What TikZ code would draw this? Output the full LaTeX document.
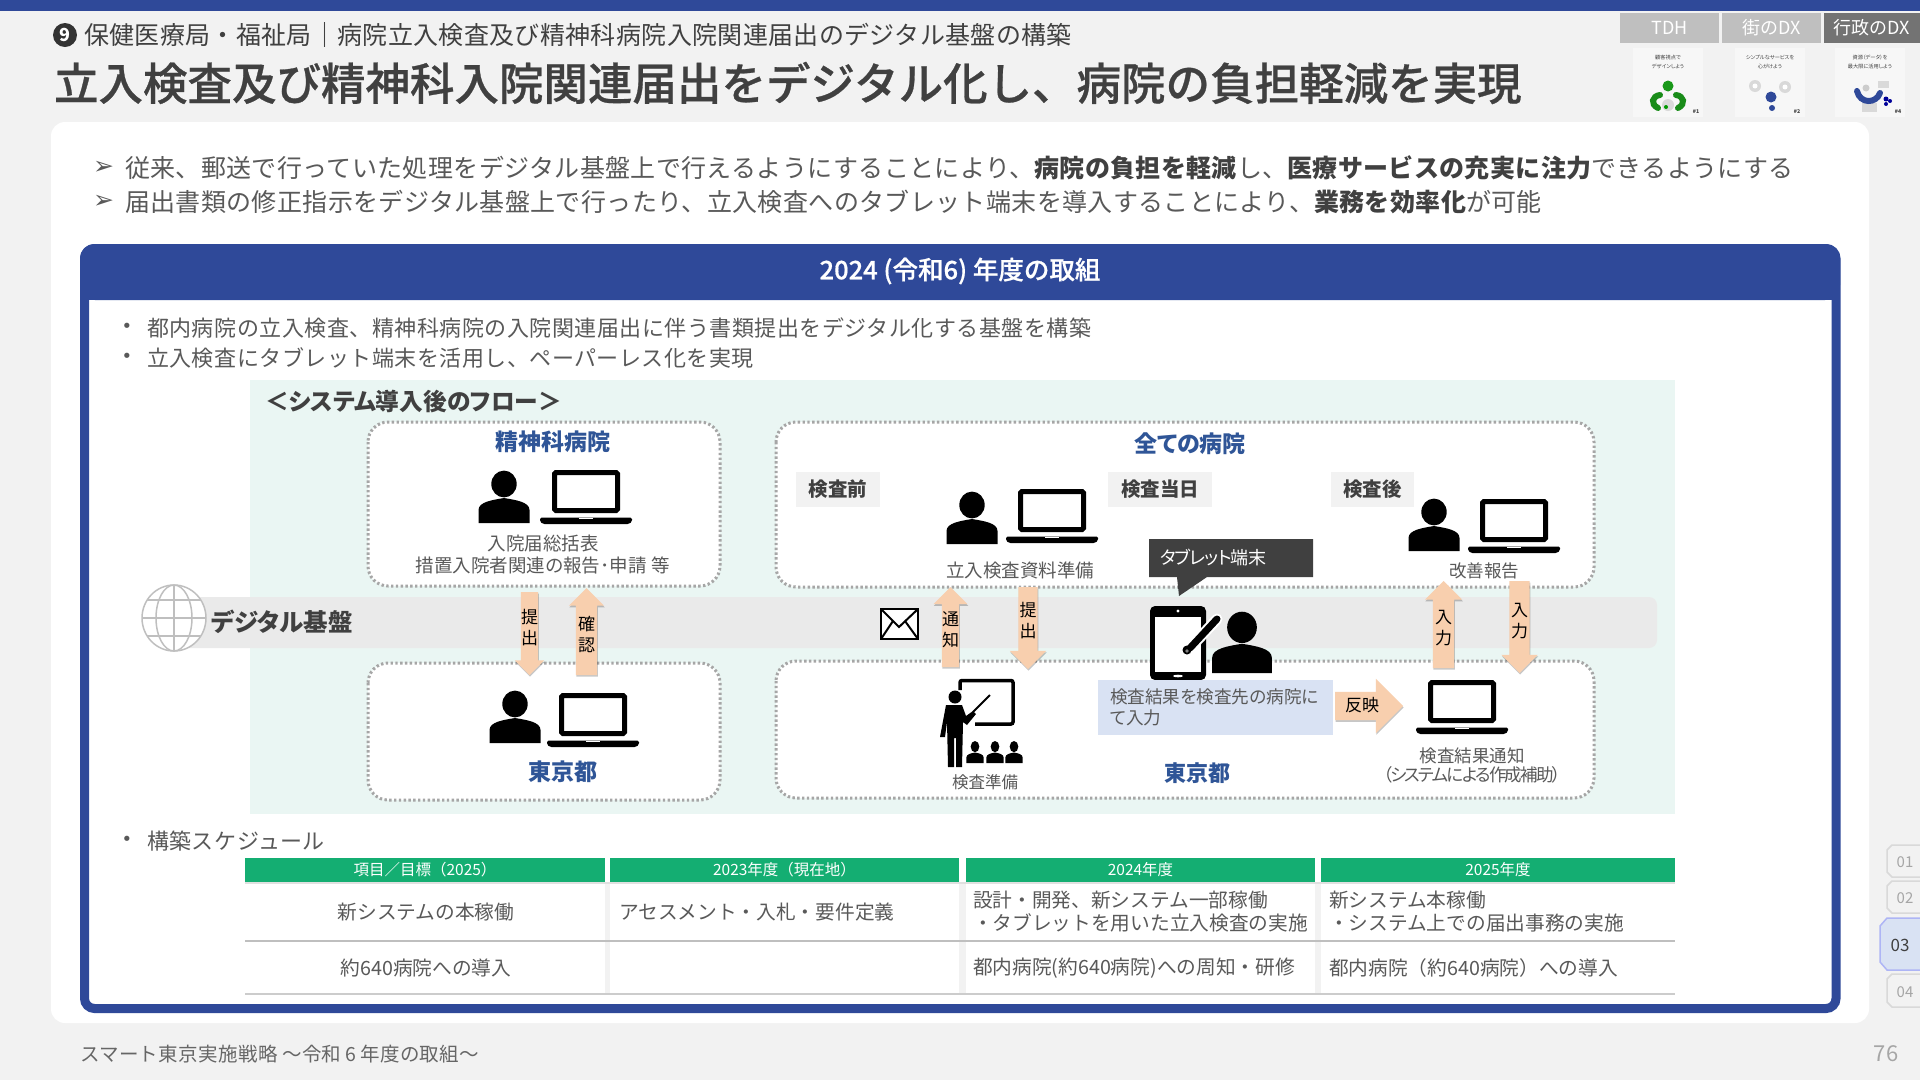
\documentclass[tikz,border=0pt]{standalone}
\usepackage{fontspec}
\usetikzlibrary{shapes.arrows,shadows}
\setmainfont{Noto Sans CJK JP}
\newfontfamily\pf[RawFeature=+palt]{Noto Sans CJK JP}
\newfontfamily\mf[FakeBold=0.6]{Noto Sans CJK JP Medium}
\newfontfamily\djfont{DejaVu Sans}
\newcommand\fz[2]{\fontsize{#1}{#2}\selectfont}
\newcommand\ls[1]{\addfontfeature{LetterSpace=#1}}
\definecolor{bluemain}{HTML}{2F4999}
\definecolor{bluetext}{HTML}{2F5597}
\definecolor{bgpage}{HTML}{F2F2F2}
\definecolor{mint}{HTML}{EAF6F3}
\definecolor{band}{HTML}{EAEAEA}
\definecolor{peach}{HTML}{F8CFAE}
\definecolor{tgray}{HTML}{595959}
\definecolor{tdark}{HTML}{404040}
\definecolor{tablegreen}{HTML}{14AE72}
\definecolor{dotgray}{HTML}{A6A6A6}
\definecolor{paleblue}{HTML}{D9E2F3}
\tikzset{
  lab/.style={inner sep=0pt,outer sep=0pt,text=tgray},
  wlab/.style={lab,anchor=west},
  dotbox/.style={draw=dotgray,line width=3pt,dash pattern=on 2.4pt off 2.4pt,fill=white,rounded corners=20pt},
  hosp/.style={lab,text=bluetext,font=\fz{23}{28}\pf\bfseries},
  tagbox/.style={fill=bgpage,inner sep=0pt,minimum height=35pt,text=tdark,font=\fz{19.5}{24}\pf\bfseries},
  small/.style={lab,align=center,font=\fz{18.5}{22}\pf},
  arrowlab/.style={lab,text=black,align=center,font=\fz{17}{21}\pf},
  blockarrow/.style={single arrow,fill=peach,inner sep=0pt,outer sep=0pt,anchor=tail,
     drop shadow={shadow xshift=0.6pt,shadow yshift=-1.6pt,opacity=.22,fill=black}},
  thead/.style={fill=tablegreen,text=white,inner sep=0pt,minimum height=24pt,font=\fz{15.5}{18}},
  tcell/.style={lab,font=\fz{19.7}{24}},
  navtab/.style={lab,font=\fz{15}{18},text=dotgray},
  tophead/.style={inner sep=0pt,minimum height=30pt,text=white,font=\fz{18}{22}},
  tiny/.style={lab,align=center,text=tdark,font=\fz{5.2}{8.5}\pf},
  person/.pic={
    \fill[black] (0,-39) ellipse (12.7 and 13.4);
    \fill[black] (-25.5,0) -- (-25.5,-13) .. controls (-25.5,-21) and (-12,-23) .. (0,-25)
       .. controls (12,-23) and (25.5,-21) .. (25.5,-13) -- (25.5,0) -- cycle;
  },
  laptop/.pic={
    \draw[black,line width=5pt,fill=white,rounded corners=1.5pt] (-31.5,-13.5) rectangle (31.5,-51.5);
    \fill[black,rounded corners=1.5pt] (-46,-6.5) -- (46,-6.5) -- (46,-2.5) -- (43,0) -- (-43,0) -- (-46,-2.5) -- cycle;
    \fill[white] (-7,-6.5) rectangle (7,-5);
  },
}
\newcommand\shaft[1]{\rule{0pt}{#1pt}}
\begin{document}
\begin{tikzpicture}[x=1pt,y=-1pt]
\useasboundingbox (0,0) rectangle (1920,1080);
\fill[bgpage] (0,0) rectangle (1920,1080);
\fill[bluemain] (0,0) rectangle (1920,11);

% heading
\node[circle,fill=black!80,text=white,inner sep=0pt,minimum size=24pt,font=\fz{18}{20}\bfseries] (num) at (65,35) {9};
\node[wlab,text=tdark,font=\fz{25}{30}\ls{1.4}] (sect) at (84,35) {保健医療局・福祉局｜病院立入検査及び精神科病院入院関連届出のデジタル基盤の構築};
\node[wlab,text=tdark,font=\fz{44.5}{50}\mf\fz{44.5}{50}] (title) at (54,83) {立入検査及び精神科入院関連届出をデジタル化し、病院の負担軽減を実現};

% top-right tabs
\node[tophead,fill=black!25,minimum width=99pt] (tab1) at (1669.5,28) {TDH};
\node[tophead,fill=black!25,minimum width=99pt] (tab2) at (1771.5,28) {街のDX};
\node[tophead,fill=black!55,minimum width=96pt] (tab3) at (1872,28) {行政のDX};
\fill[white!97!black] (1633,48) rectangle (1703,117);
\fill[white!97!black] (1735,48) rectangle (1805,117);
\fill[white!97!black] (1835,48) rectangle (1905,117);
\node[tiny] (c1) at (1668,62) {顧客視点で\\デザインしよう};
\node[tiny] (c2) at (1770,62) {シンプルなサービスを\\心がけよう};
\node[tiny] (c3) at (1870,62) {資源（データ）を\\最大限に活用しよう};
\node[tiny] (n1) at (1696,112) {\bfseries \#1};
\node[tiny] (n2) at (1797,112) {\bfseries \#2};
\node[tiny] (n3) at (1898,112) {\bfseries \#4};
\fill[black!15] (1668,105) circle (6);
\fill[green!55!black!90] (1668,86) circle (5.5);
\draw[green!50!black!90,line width=6pt,line cap=round] (1660,95) .. controls (1652,96) and (1650,104) .. (1658,108);
\draw[green!50!black!90,line width=6pt,line cap=round] (1676,95) .. controls (1684,96) and (1686,104) .. (1678,108);
\fill[green!60!black] (1666,107) circle (2);
\fill[black!15] (1755,86) circle (6);
\fill[black!15] (1785,87) circle (6);
\fill[white] (1755,86) circle (2.5);
\fill[white] (1785,87) circle (2.5);
\fill[bluemain] (1771,97) circle (5.5);
\fill[bluemain] (1772,108) circle (3);
\fill[black!15] (1878,81) rectangle (1889,88);
\fill[black!15] (1862,103) rectangle (1877,112);
\fill[black!20] (1866,88) circle (3.5);
\draw[bluemain,line width=6pt,line cap=round] (1857,91) .. controls (1860,104) and (1876,104) .. (1880,93);
\fill[blue!60!black] (1886,99) circle (2.5);
\fill[blue!60!black] (1890,101) circle (2);
\fill[blue!60!black] (1886,104) circle (2);

% main panel
\fill[white,rounded corners=14pt] (51,122) rectangle (1869,1023);
\node[wlab,font=\fz{25}{28}\djfont] (a1) at (93,168) {➢};
\node[wlab,font=\fz{25}{28}\djfont] (a2) at (93,202) {➢};
\node[wlab,font=\fz{25}{30}\ls{1.5}] (l1) at (125,168) {従来、郵送で行っていた処理をデジタル基盤上で行えるようにすることにより、{\bfseries\color{tdark}病院の負担を軽減}し、{\bfseries\color{tdark}医療サービスの充実に注力}できるようにする};
\node[wlab,font=\fz{25}{30}\ls{1.5}] (l2) at (125,202) {届出書類の修正指示をデジタル基盤上で行ったり、立入検査へのタブレット端末を導入することにより、{\bfseries\color{tdark}業務を効率化}が可能};

% blue frame
\draw[draw=bluemain,fill=white,line width=9pt,rounded corners=10pt] (84.5,248.5) rectangle (1836,1008.5);
\fill[bluemain,rounded corners=15pt] (80,244) -- (1840,244) -- (1840,300) -- (80,300) -- cycle;
\fill[bluemain] (80,280) rectangle (1840,300);
\node[lab,text=white,font=\fz{25.5}{30}\mf\fz{25.5}{30}] (hdr) at (960,271) {2024 (令和6) 年度の取組};

\node[lab,font=\fz{18}{22}\djfont] (b1) at (127,328) {•};
\node[lab,font=\fz{18}{22}\djfont] (b2) at (127,358) {•};
\node[wlab,font=\fz{22}{27}\ls{2.3}] (bt1) at (147,328) {都内病院の立入検査、精神科病院の入院関連届出に伴う書類提出をデジタル化する基盤を構築};
\node[wlab,font=\fz{22}{27}\ls{2.3}] (bt2) at (147,358) {立入検査にタブレット端末を活用し、ペーパーレス化を実現};

% mint area
\fill[mint] (250,380) rectangle (1675,814);
\node[wlab,text=tdark,font=\fz{23.7}{30}\pf\bfseries] (flow) at (265,401) {＜システム導入後のフロー＞};

% digital band
\fill[band,rounded corners=8pt] (180,597) rectangle (1657,648);

% dotted boxes
\draw[dotbox] (368,422) rectangle (720,586);
\draw[dotbox] (776,422) rectangle (1594,587);
\draw[dotbox] (368,663) rectangle (720,800);
\draw[dotbox] (776,661) rectangle (1594,798);

% globe
\fill[white] (174,618) ellipse (32 and 33);
\draw[black!25,line width=1.5pt] (174,618) ellipse (32 and 33);
\draw[black!25,line width=1.5pt] (174,618) ellipse (18 and 33);
\draw[black!25,line width=1.5pt] (174,585) -- (174,651);
\draw[black!25,line width=1.5pt] (142,618) -- (206,618);
\draw[black!25,line width=1.5pt] (147,600) -- (201,600);
\draw[black!25,line width=1.5pt] (147,636) -- (201,636);
\node[wlab,text=tdark,font=\fz{24.5}{32}\pf\bfseries] (dig) at (211,622) {デジタル基盤};

% left column
\node[hosp] (h1) at (553,442) {精神科病院};
\pic at (504,523) {person};
\pic at (586,524) {laptop};
\node[small] (t1) at (543,555) {入院届総括表\\措置入院者関連の報告･申請\hspace{5pt}等};
\pic at (515,743) {person};
\pic at (593,747) {laptop};
\node[hosp] (h2) at (563,772) {東京都};

% right column, top
\node[hosp] (h3) at (1190,444) {全ての病院};
\node[tagbox,minimum width=84pt] (tg1) at (838,489.5) {検査前};
\node[tagbox,minimum width=104pt] (tg2) at (1160,489.5) {検査当日};
\node[tagbox,minimum width=83pt] (tg3) at (1372.5,489.5) {検査後};
\pic at (972,544) {person};
\pic at (1052,543) {laptop};
\node[small] (t2) at (1020,570) {立入検査資料準備};
\pic at (1434,551) {person};
\pic at (1514,553) {laptop};
\node[small,font=\fz{17.5}{21}\pf] (t3) at (1484,571) {改善報告};

% envelope
\draw[black,line width=2.6pt,fill=white] (881,609) rectangle (918,639);
\draw[black,line width=2pt] (881,609) -- (899,627) -- (918,609);
\draw[black,line width=2pt] (881,639) -- (893,621);
\draw[black,line width=2pt] (918,639) -- (905,621);

% tablet and person
\fill[black,rounded corners=5pt] (1150,606) rectangle (1206,680);
\fill[white] (1155,617) rectangle (1201,672);
\fill[white] (1178,611) circle (1.6);
\fill[white] (1178,676) ellipse (5 and 1.3);
\draw[white,line width=11pt,line cap=round] (1190,648) -- (1217,619);
\draw[black,line width=7pt,line cap=round] (1190,648) -- (1217,619);
\fill[black] (1187,650) circle (4.5);
\fill[black!50] (1187,651) circle (1.8);
\pic[scale=1.17] at (1242,673) {person};

% callout
\fill[tdark] (1149,539) -- (1313,539) -- (1313,577) -- (1207,577) -- (1179,596) -- (1177,577) -- (1149,577) -- cycle;
\node[wlab,text=white,font=\fz{18}{22}\pf\ls{-5}] (tab) at (1160,558) {タブレット端末};

% blue note
\node[fill=paleblue,inner sep=0pt,minimum width=235pt,minimum height=55pt,anchor=north west] (note) at (1098,680) {};
\node[wlab,text=tgray,align=left,font=\fz{17.6}{21}\pf] (notet) at (1110,707.5) {検査結果を検査先の病院に\\て入力};

% teacher
\draw[black,line width=3.5pt,rounded corners=2pt] (960,690) -- (960,680.5) -- (1013,680.5) -- (1013,724) -- (975,724);
\fill[black] (955,697) circle (6.5);
\fill[black] (946,705) -- (962,705) -- (966,716) -- (973,711) -- (976,714) -- (967,725) -- (963,722) -- (962,767) -- (956,767) -- (956,738) -- (954,738) -- (954,767) -- (948,767) -- (947,722) -- (945,737) -- (940,737) -- cycle;
\draw[black,line width=2pt] (973,712) -- (990,695);
\pic[xscale=.34,yscale=.42] at (975,763) {person};
\pic[xscale=.34,yscale=.42] at (995,763) {person};
\pic[xscale=.34,yscale=.42] at (1014,763) {person};
\node[small,font=\fz{16.5}{20}\pf] (t4) at (985,782) {検査準備};
\node[hosp,font=\fz{22}{28}\pf\bfseries] (h4) at (1197,773) {東京都};
\pic at (1462,734) {laptop};
\node[small,font=\fz{17.5}{19}\pf] (t5) at (1472,765.5) {検査結果通知\\{\ls{-10}（システムによる作成補助）}};

% block arrows
\node[blockarrow,rotate=-90,minimum height=83pt,single arrow head extend=6pt] (ar1) at (529.5,592) {\shaft{17}};
\node[blockarrow,rotate=90,minimum height=87pt,single arrow head extend=7pt] (ar2) at (586.5,675) {\shaft{21}};
\node[blockarrow,rotate=90,minimum height=80pt,single arrow head extend=8.5pt] (ar3) at (950.5,667) {\shaft{17}};
\node[blockarrow,rotate=-90,minimum height=82pt,single arrow head extend=8.5pt] (ar4) at (1028,587) {\shaft{19}};
\node[blockarrow,rotate=90,minimum height=87pt,single arrow head extend=8pt] (ar5) at (1443.5,668) {\shaft{21}};
\node[blockarrow,rotate=-90,minimum height=92pt,single arrow head extend=8pt] (ar6) at (1519.5,581) {\shaft{20}};
\node[blockarrow,minimum height=68pt,single arrow head extend=13pt] (ar7) at (1335,706) {\shaft{28}};
\node[arrowlab] (al1) at (529.5,628) {提\\出};
\node[arrowlab] (al2) at (586.5,634) {確\\認};
\node[arrowlab] (al3) at (950.5,630) {通\\知};
\node[arrowlab] (al4) at (1028,621) {提\\出};
\node[arrowlab] (al5) at (1443.5,628) {入\\力};
\node[arrowlab] (al6) at (1519.5,621) {入\\力};
\node[arrowlab] (al7) at (1362,705) {反映};

% schedule
\node[lab,font=\fz{18}{22}\djfont] (b3) at (127,841) {•};
\node[wlab,font=\fz{22}{27}\ls{2.3}] (bt3) at (147,841) {構築スケジュール};
\node[thead,minimum width=360pt] (th1) at (425,870) {項目／目標（2025）};
\node[thead,minimum width=349pt] (th2) at (784.5,870) {2023年度（現在地）};
\node[thead,minimum width=349pt] (th3) at (1140.5,870) {2024年度};
\node[thead,minimum width=354pt] (th4) at (1498,870) {2025年度};
\fill[bgpage] (605,882) rectangle (610,994);
\fill[bgpage] (959,882) rectangle (966,994);
\fill[bgpage] (1315,882) rectangle (1321,994);
\fill[black!12] (245,882) rectangle (1675,884);
\draw[black!25,line width=1.5pt] (245,941) -- (1675,941);
\draw[black!20,line width=2pt] (245,994) -- (1675,994);
\node[tcell] (c11) at (426,912) {新システムの本稼働};
\node[tcell,anchor=west] (c12) at (619,912) {アセスメント・入札・要件定義};
\node[tcell,anchor=west] (c13) at (973,900) {設計・開発、新システム一部稼働};
\node[tcell,anchor=west] (c13b) at (973,923) {・タブレットを用いた立入検査の実施};
\node[tcell,anchor=west] (c14) at (1329,900) {新システム本稼働};
\node[tcell,anchor=west] (c14b) at (1329,923) {・システム上での届出事務の実施};
\node[tcell] (c21) at (426,968) {約640病院への導入};
\node[tcell,anchor=west] (c23) at (973,968) {都内病院(約640病院)への周知・研修};
\node[tcell,anchor=west] (c24) at (1329,968) {都内病院（約640病院）への導入};

% footer
\node[wlab,text=black!60,font=\fz{19.5}{24}\ls{1.8}] (foot) at (80,1054) {スマート東京実施戦略 〜令和\hspace{4pt}6\hspace{4pt}年度の取組〜};
\node[lab,text=dotgray,font=\fz{22}{26}] (page) at (1886,1054) {76};

% side tabs
\draw[black!15,line width=1.5pt,fill=bgpage] (1920,845) -- (1892,845) -- (1887,850) -- (1887,872) -- (1892,877) -- (1920,877);
\draw[black!15,line width=1.5pt,fill=bgpage] (1920,881) -- (1892,881) -- (1887,886) -- (1887,908) -- (1892,913) -- (1920,913);
\draw[black!15,line width=1.5pt,fill=bgpage] (1920,974) -- (1892,974) -- (1887,979) -- (1887,1002) -- (1892,1007) -- (1920,1007);
\draw[draw=paleblue!80!blue,line width=1.5pt,fill=paleblue] (1920,918) -- (1887,918) -- (1880,926) -- (1880,962) -- (1887,970) -- (1920,970);
\node[navtab] (p1) at (1905,862) {01};
\node[navtab] (p2) at (1905,898) {02};
\node[navtab,text=tdark,font=\fz{17}{20}] (p3) at (1900,945) {03};
\node[navtab] (p4) at (1905,992) {04};
\end{tikzpicture}
\end{document}
